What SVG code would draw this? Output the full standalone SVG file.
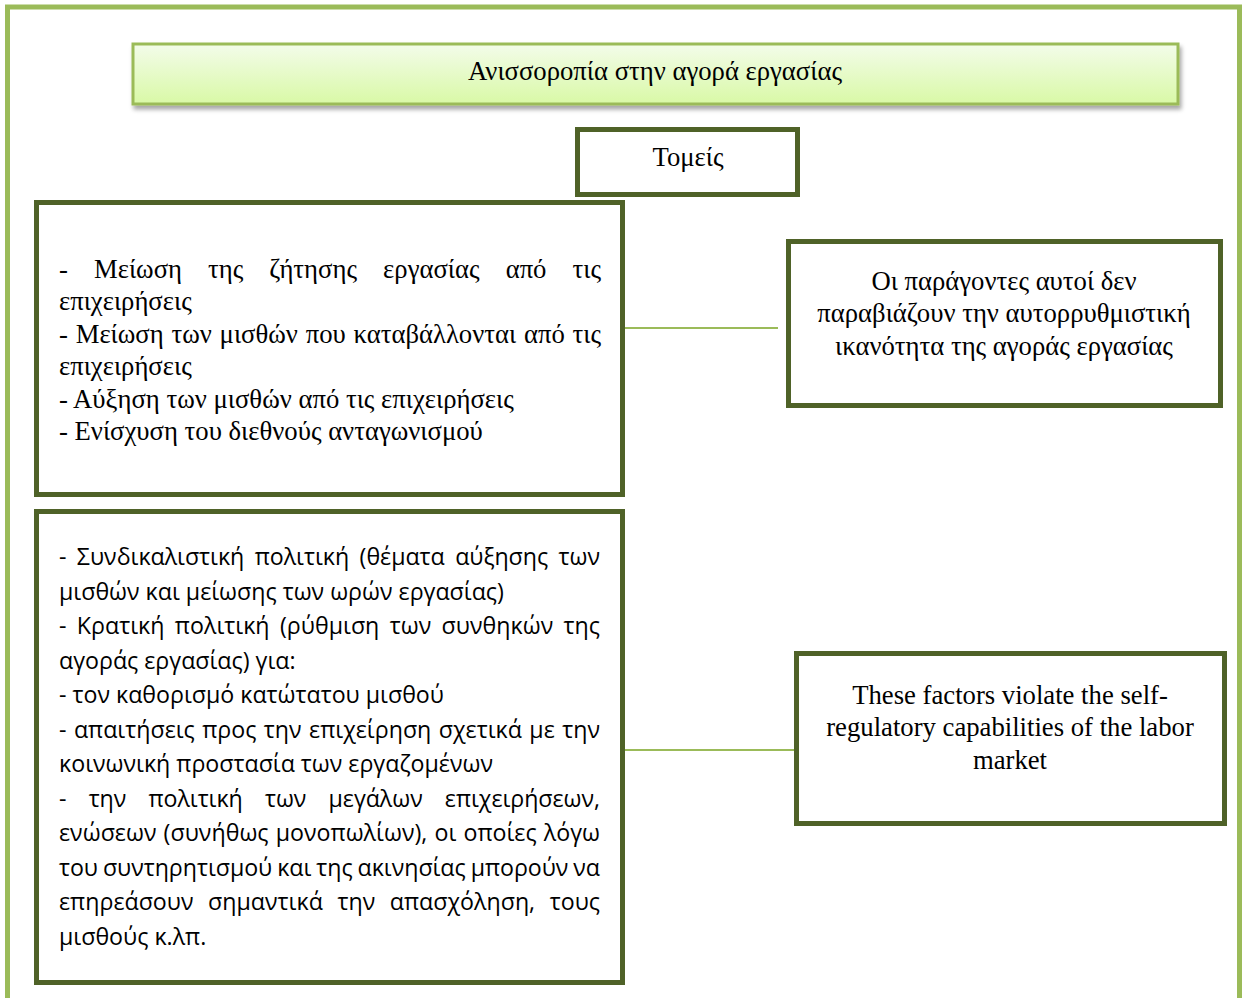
<svg xmlns="http://www.w3.org/2000/svg" width="1244" height="998" viewBox="0 0 1244 998">
<style>
.box{fill:#fff;stroke:#4F6228;stroke-width:5}
.serif{font-family:"Liberation Serif","Times New Roman",serif;font-size:26.7px;fill:#000}
.sans{font-family:"Open Sans","Noto Sans",sans-serif;font-size:23.2px;fill:#000}
.mid{text-anchor:middle}
.conn{stroke:#9BBB59;stroke-width:2;fill:none}
</style>
<defs>
<linearGradient id="tg" x1="0" y1="0" x2="0" y2="1">
<stop offset="0" stop-color="#F3FCEA"/>
<stop offset="1" stop-color="#D9F9A6"/>
</linearGradient>
<filter id="sh" x="-5%" y="-20%" width="110%" height="150%">
<feDropShadow dx="2" dy="4" stdDeviation="2" flood-color="#000" flood-opacity="0.35"/>
</filter>
</defs>
<rect x="7.5" y="7" width="1232" height="1100" fill="none" stroke="#9BBB59" stroke-width="5"/>
<g id="title">
<rect x="133" y="44" width="1045" height="60" fill="url(#tg)" stroke="#9BBB59" stroke-width="3" filter="url(#sh)"/>
<text class="serif mid" x="655" y="80">Ανισσοροπία στην αγορά εργασίας</text>
</g>
<g id="tomeis">
<rect class="box" x="577.5" y="129.5" width="220" height="65"/>
<text class="serif mid" x="688" y="166">Τομείς</text>
</g>
<g id="connectors">
<line class="conn" x1="625" y1="328" x2="778" y2="328"/>
<line class="conn" x1="625" y1="750" x2="795" y2="750"/>
</g>
<g id="box1">
<rect class="box" x="36.5" y="202.5" width="586" height="292"/>
<text class="serif" x="59" y="278" word-spacing="19.3" textLength="542" lengthAdjust="spacing">- Μείωση της ζήτησης εργασίας από τις</text>
<text class="serif" x="59" y="310">επιχειρήσεις</text>
<text class="serif" x="59" y="343" word-spacing="1.1" textLength="542" lengthAdjust="spacing">- Μείωση των μισθών που καταβάλλονται από τις</text>
<text class="serif" x="59" y="375">επιχειρήσεις</text>
<text class="serif" x="59" y="408">- Αύξηση των μισθών από τις επιχειρήσεις</text>
<text class="serif" x="59" y="440">- Ενίσχυση του διεθνούς ανταγωνισμού</text>
</g>
<g id="box2">
<rect class="box" x="788.5" y="241.5" width="432" height="164"/>
<text class="serif mid" x="1004" y="290">Οι παράγοντες αυτοί δεν</text>
<text class="serif mid" x="1004" y="322">παραβιάζουν την αυτορρυθμιστική</text>
<text class="serif mid" x="1004" y="355">ικανότητα της αγοράς εργασίας</text>
</g>
<g id="box3">
<rect class="box" x="36.5" y="511.5" width="586" height="471"/>
<text class="sans" x="59" y="565" word-spacing="4.4" textLength="541" lengthAdjust="spacing">- Συνδικαλιστική πολιτική (θέματα αύξησης των</text>
<text class="sans" x="59" y="599.5">μισθών και μείωσης των ωρών εργασίας)</text>
<text class="sans" x="59" y="634" word-spacing="4.3" textLength="541" lengthAdjust="spacing">- Κρατική πολιτική (ρύθμιση των συνθηκών της</text>
<text class="sans" x="59" y="668.5">αγοράς εργασίας) για:</text>
<text class="sans" x="59" y="703">- τον καθορισμό κατώτατου μισθού</text>
<text class="sans" x="59" y="737.5" word-spacing="1.4" textLength="541" lengthAdjust="spacing">- απαιτήσεις προς την επιχείρηση σχετικά με την</text>
<text class="sans" x="59" y="772">κοινωνική προστασία των εργαζομένων</text>
<text class="sans" x="59" y="806.5" word-spacing="16.2" textLength="541" lengthAdjust="spacing">- την πολιτική των μεγάλων επιχειρήσεων,</text>
<text class="sans" x="59" y="841" word-spacing="1" textLength="541" lengthAdjust="spacing">ενώσεων (συνήθως μονοπωλίων), οι οποίες λόγω</text>
<text class="sans" x="59" y="875.5" word-spacing="-1" textLength="541" lengthAdjust="spacing">του συντηρητισμού και της ακινησίας μπορούν να</text>
<text class="sans" x="59" y="910" word-spacing="8.5" textLength="541" lengthAdjust="spacing">επηρεάσουν σημαντικά την απασχόληση, τους</text>
<text class="sans" x="59" y="944.5">μισθούς κ.λπ.</text>
</g>
<g id="box4">
<rect class="box" x="796.5" y="653.5" width="428" height="170"/>
<text class="serif mid" x="1010" y="704">These factors violate the self-</text>
<text class="serif mid" x="1010" y="736">regulatory capabilities of the labor</text>
<text class="serif mid" x="1010" y="769">market</text>
</g>
</svg>
